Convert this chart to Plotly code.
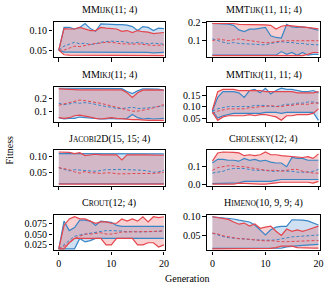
import plotly.graph_objects as go

gens = list(range(21))

# ---- MMijk(11;4)
mmijk_blue_max = [0.050,0.108,0.108,0.104,0.108,0.118,0.105,0.098,0.117,0.116,0.115,0.115,0.115,0.114,0.110,0.100,0.110,0.108,0.100,0.106,0.105]
mmijk_blue_mean = [0.050,0.060,0.065,0.070,0.066,0.068,0.064,0.066,0.070,0.072,0.073,0.072,0.072,0.070,0.068,0.070,0.068,0.066,0.068,0.066,0.065]
mmijk_blue_min = [0.050,0.045,0.045,0.045,0.044,0.045,0.045,0.044,0.044,0.045,0.045,0.044,0.044,0.045,0.044,0.044,0.044,0.044,0.043,0.044,0.044]
mmijk_red_max = [0.050,0.105,0.104,0.104,0.108,0.103,0.100,0.100,0.108,0.106,0.105,0.104,0.098,0.100,0.095,0.100,0.097,0.096,0.092,0.093,0.095]
mmijk_red_mean = [0.050,0.050,0.055,0.060,0.059,0.062,0.064,0.067,0.068,0.070,0.070,0.068,0.066,0.066,0.065,0.066,0.064,0.063,0.062,0.063,0.063]
mmijk_red_min = [0.050,0.038,0.037,0.037,0.037,0.037,0.037,0.037,0.036,0.036,0.036,0.036,0.036,0.036,0.036,0.036,0.036,0.036,0.036,0.036,0.036]

# ---- MMTijk(11,11;4)
mmtijk_blue_max = [0.195,0.195,0.195,0.192,0.185,0.160,0.150,0.164,0.164,0.168,0.173,0.127,0.118,0.115,0.190,0.176,0.173,0.176,0.173,0.165,0.158]
mmtijk_blue_mean = [0.110,0.100,0.092,0.085,0.090,0.085,0.083,0.080,0.082,0.078,0.077,0.085,0.090,0.095,0.090,0.090,0.085,0.085,0.080,0.080,0.077]
mmtijk_blue_min = [0.020,0.020,0.020,0.020,0.020,0.020,0.020,0.020,0.020,0.020,0.020,0.020,0.020,0.040,0.025,0.035,0.020,0.035,0.020,0.025,0.025]
mmtijk_red_max = [0.195,0.195,0.195,0.195,0.195,0.190,0.190,0.190,0.190,0.190,0.188,0.185,0.165,0.180,0.185,0.182,0.180,0.178,0.175,0.170,0.165]
mmtijk_red_mean = [0.100,0.110,0.105,0.100,0.105,0.110,0.105,0.100,0.097,0.092,0.088,0.090,0.095,0.098,0.100,0.100,0.100,0.102,0.100,0.100,0.100]
mmtijk_red_min = [0.018,0.018,0.018,0.018,0.018,0.018,0.018,0.018,0.018,0.018,0.018,0.018,0.018,0.018,0.018,0.018,0.018,0.018,0.025,0.035,0.035]

# ---- MMikj(11;4)
mmikj_blue_max = [0.275,0.275,0.275,0.275,0.275,0.275,0.274,0.274,0.274,0.274,0.274,0.274,0.272,0.250,0.235,0.255,0.270,0.270,0.270,0.268,0.260]
mmikj_blue_mean = [0.160,0.150,0.155,0.165,0.160,0.165,0.160,0.150,0.140,0.135,0.130,0.120,0.120,0.125,0.130,0.120,0.120,0.125,0.130,0.135,0.140]
mmikj_blue_min = [0.050,0.040,0.045,0.045,0.055,0.050,0.045,0.040,0.040,0.040,0.045,0.040,0.040,0.045,0.075,0.050,0.040,0.045,0.040,0.045,0.045]
mmikj_red_max = [0.270,0.270,0.268,0.265,0.262,0.262,0.260,0.260,0.265,0.265,0.262,0.262,0.262,0.240,0.205,0.240,0.260,0.262,0.262,0.260,0.260]
mmikj_red_mean = [0.145,0.155,0.165,0.175,0.185,0.180,0.175,0.170,0.160,0.150,0.140,0.130,0.120,0.105,0.100,0.100,0.105,0.115,0.125,0.140,0.150]
mmikj_red_min = [0.050,0.045,0.050,0.065,0.070,0.065,0.055,0.045,0.040,0.045,0.050,0.045,0.040,0.040,0.035,0.035,0.030,0.030,0.030,0.030,0.030]

# ---- MMTikj(11,11;4)
mmtikj_blue_max = [0.080,0.140,0.165,0.165,0.165,0.160,0.140,0.170,0.175,0.160,0.180,0.155,0.170,0.180,0.175,0.175,0.170,0.165,0.165,0.170,0.160]
mmtikj_blue_mean = [0.080,0.090,0.095,0.100,0.100,0.100,0.100,0.100,0.105,0.105,0.105,0.100,0.100,0.105,0.110,0.110,0.115,0.115,0.120,0.120,0.115]
mmtikj_blue_min = [0.080,0.050,0.060,0.065,0.070,0.070,0.070,0.070,0.070,0.070,0.075,0.075,0.075,0.070,0.075,0.075,0.075,0.075,0.075,0.075,0.040]
mmtikj_red_max = [0.085,0.165,0.175,0.175,0.175,0.170,0.170,0.170,0.170,0.170,0.165,0.165,0.165,0.165,0.165,0.165,0.160,0.160,0.160,0.160,0.165]
mmtikj_red_mean = [0.070,0.080,0.085,0.090,0.090,0.090,0.090,0.095,0.095,0.100,0.100,0.105,0.100,0.100,0.105,0.105,0.110,0.110,0.110,0.115,0.115]
mmtikj_red_min = [0.075,0.040,0.055,0.060,0.060,0.060,0.060,0.065,0.060,0.065,0.065,0.060,0.055,0.040,0.060,0.060,0.065,0.065,0.065,0.070,0.090]

# ---- Jacobi2D(15,15;4)
jacobi_blue_max = [0.110,0.110,0.110,0.110,0.110,0.110,0.109,0.109,0.109,0.109,0.109,0.109,0.109,0.109,0.109,0.109,0.109,0.109,0.109,0.109,0.109]
jacobi_blue_mean = [0.066,0.062,0.056,0.060,0.058,0.056,0.056,0.055,0.058,0.060,0.060,0.061,0.061,0.060,0.060,0.059,0.058,0.056,0.052,0.053,0.058]
jacobi_blue_min = [0.016,0.016,0.016,0.016,0.016,0.016,0.016,0.016,0.016,0.016,0.016,0.016,0.016,0.016,0.016,0.016,0.016,0.016,0.016,0.016,0.016]
jacobi_red_max = [0.115,0.115,0.114,0.110,0.113,0.104,0.107,0.108,0.106,0.107,0.106,0.106,0.090,0.106,0.107,0.106,0.106,0.106,0.106,0.105,0.105]
jacobi_red_mean = [0.066,0.064,0.060,0.053,0.049,0.054,0.050,0.050,0.048,0.050,0.050,0.047,0.046,0.047,0.048,0.048,0.046,0.047,0.048,0.050,0.052]
jacobi_red_min = [0.015,0.015,0.015,0.015,0.015,0.015,0.015,0.015,0.015,0.015,0.015,0.015,0.015,0.015,0.015,0.015,0.015,0.015,0.015,0.015,0.015]

# ---- Cholesky(12;4)
chol_blue_max = [0.120,0.140,0.140,0.135,0.135,0.130,0.145,0.135,0.140,0.130,0.135,0.125,0.120,0.120,0.100,0.150,0.145,0.145,0.135,0.135,0.135]
chol_blue_mean = [0.065,0.070,0.075,0.085,0.090,0.090,0.090,0.085,0.080,0.080,0.080,0.075,0.075,0.080,0.075,0.075,0.070,0.070,0.070,0.075,0.085]
chol_blue_min = [0.008,0.008,0.008,0.010,0.010,0.012,0.020,0.022,0.020,0.020,0.020,0.020,0.025,0.030,0.030,0.030,0.030,0.030,0.030,0.028,0.030]
chol_red_max = [0.130,0.175,0.180,0.180,0.178,0.175,0.160,0.165,0.160,0.165,0.180,0.165,0.165,0.160,0.158,0.155,0.155,0.150,0.155,0.145,0.170]
chol_red_mean = [0.080,0.095,0.100,0.105,0.105,0.100,0.100,0.095,0.090,0.085,0.080,0.080,0.080,0.075,0.080,0.085,0.085,0.075,0.070,0.065,0.065]
chol_red_min = [0.005,0.005,0.008,0.005,0.005,0.010,0.008,0.005,0.005,0.005,0.005,0.010,0.012,0.015,0.015,0.015,0.015,0.015,0.015,0.010,0.020]

# ---- Crout(12;4)
crout_blue_max = [0.016,0.080,0.058,0.065,0.082,0.082,0.080,0.070,0.080,0.078,0.077,0.070,0.068,0.068,0.068,0.068,0.068,0.068,0.068,0.068,0.068]
crout_blue_mean = [0.016,0.025,0.035,0.045,0.048,0.050,0.052,0.055,0.057,0.058,0.058,0.058,0.057,0.055,0.056,0.055,0.055,0.055,0.055,0.056,0.057]
crout_blue_min = [0.016,0.016,0.016,0.016,0.040,0.032,0.035,0.040,0.040,0.040,0.040,0.040,0.040,0.040,0.040,0.040,0.040,0.040,0.040,0.040,0.040]
crout_red_max = [0.016,0.070,0.085,0.090,0.085,0.085,0.080,0.075,0.078,0.078,0.075,0.075,0.085,0.080,0.085,0.080,0.090,0.078,0.090,0.088,0.090]
crout_red_mean = [0.016,0.022,0.030,0.040,0.045,0.050,0.050,0.052,0.053,0.050,0.050,0.052,0.055,0.055,0.055,0.055,0.055,0.055,0.056,0.057,0.058]
crout_red_min = [0.016,0.016,0.030,0.040,0.040,0.040,0.040,0.040,0.040,0.025,0.025,0.040,0.040,0.040,0.040,0.025,0.025,0.030,0.030,0.020,0.025]

# ---- Himeno(10,9,9;4)
himeno_blue_max = [0.099,0.098,0.097,0.095,0.093,0.090,0.088,0.085,0.077,0.064,0.050,0.064,0.071,0.073,0.073,0.091,0.091,0.090,0.088,0.083,0.077]
himeno_blue_mean = [0.055,0.050,0.046,0.043,0.042,0.042,0.040,0.038,0.037,0.036,0.035,0.036,0.037,0.040,0.042,0.045,0.046,0.047,0.048,0.049,0.050]
himeno_blue_min = [0.014,0.014,0.014,0.014,0.014,0.014,0.014,0.014,0.014,0.014,0.014,0.014,0.014,0.015,0.018,0.020,0.021,0.022,0.023,0.024,0.025]
himeno_red_max = [0.099,0.097,0.095,0.092,0.085,0.079,0.082,0.074,0.080,0.068,0.071,0.074,0.060,0.049,0.066,0.060,0.064,0.060,0.064,0.068,0.074]
himeno_red_mean = [0.055,0.053,0.048,0.045,0.042,0.040,0.040,0.038,0.037,0.035,0.034,0.035,0.033,0.032,0.032,0.033,0.034,0.034,0.035,0.035,0.035]
himeno_red_min = [0.013,0.013,0.013,0.013,0.013,0.013,0.013,0.013,0.013,0.013,0.013,0.014,0.016,0.020,0.020,0.020,0.016,0.015,0.015,0.015,0.015]

SC = '<span style="font-size:7.5px">'
titles = [
    "MM" + SC + "IJK</span>(11; 4)",
    "MMT" + SC + "IJK</span>(11, 11; 4)",
    "MM" + SC + "IKJ</span>(11; 4)",
    "MMT" + SC + "IKJ</span>(11, 11; 4)",
    "J" + SC + "ACOBI</span>2D(15, 15; 4)",
    "C" + SC + "HOLESKY</span>(12; 4)",
    "C" + SC + "ROUT</span>(12; 4)",
    "H" + SC + "IMENO</span>(10, 9, 9; 4)",
]
panels = [
    (mmijk_blue_max, mmijk_blue_mean, mmijk_blue_min, mmijk_red_max, mmijk_red_mean, mmijk_red_min),
    (mmtijk_blue_max, mmtijk_blue_mean, mmtijk_blue_min, mmtijk_red_max, mmtijk_red_mean, mmtijk_red_min),
    (mmikj_blue_max, mmikj_blue_mean, mmikj_blue_min, mmikj_red_max, mmikj_red_mean, mmikj_red_min),
    (mmtikj_blue_max, mmtikj_blue_mean, mmtikj_blue_min, mmtikj_red_max, mmtikj_red_mean, mmtikj_red_min),
    (jacobi_blue_max, jacobi_blue_mean, jacobi_blue_min, jacobi_red_max, jacobi_red_mean, jacobi_red_min),
    (chol_blue_max, chol_blue_mean, chol_blue_min, chol_red_max, chol_red_mean, chol_red_min),
    (crout_blue_max, crout_blue_mean, crout_blue_min, crout_red_max, crout_red_mean, crout_red_min),
    (himeno_blue_max, himeno_blue_mean, himeno_blue_min, himeno_red_max, himeno_red_mean, himeno_red_min),
]
ytick_step = [0.05, 0.1, 0.1, 0.05, 0.05, 0.1, 0.025, 0.05]
ytick_fmt = [".2f", ".1f", ".1f", ".2f", ".2f", ".1f", ".3f", ".2f"]

BLUE = "#3a85c6"
RED = "#e5454c"
BLUE_FILL = "rgba(58,133,198,0.25)"
RED_FILL = "rgba(229,69,76,0.25)"
FONT = "Liberation Serif"

W, H = 329, 296
col_x = [(54, 167), (209, 323)]
row_top = [17.5, 84.5, 150.5, 217.5]
box_h = 36.5

fig = go.Figure()
layout = dict(
    width=W, height=H, autosize=False,
    margin=dict(l=0, r=0, t=0, b=0),
    paper_bgcolor="white", plot_bgcolor="white",
    showlegend=False,
    font=dict(family=FONT, size=10, color="black"),
)
annotations = []

for i, (bmax, bmean, bmin, rmax, rmean, rmin) in enumerate(panels):
    r, c = divmod(i, 2)
    n = i + 1
    xa = "x" if n == 1 else f"x{n}"
    ya = "y" if n == 1 else f"y{n}"
    for mx, mn, fc in [(bmax, bmin, BLUE_FILL), (rmax, rmin, RED_FILL)]:
        fig.add_trace(go.Scatter(
            x=gens + gens[::-1], y=mx + mn[::-1], fill="toself", fillcolor=fc,
            line=dict(width=0), mode="lines", hoverinfo="skip", xaxis=xa, yaxis=ya))
    for ys, col, dash, w in [(bmax, BLUE, "solid", 1.2), (bmin, BLUE, "solid", 1.2),
                             (rmax, RED, "solid", 1.2), (rmin, RED, "solid", 1.2),
                             (bmean, BLUE, "dash", 1.0), (rmean, RED, "dash", 1.0)]:
        fig.add_trace(go.Scatter(x=gens, y=ys, mode="lines",
                                 line=dict(color=col, width=w, dash="3px,2px" if dash == "dash" else "solid"),
                                 xaxis=xa, yaxis=ya))
    allv = bmax + bmin + rmax + rmin + bmean + rmean
    lo, hi = min(allv), max(allv)
    pad = 0.05 * (hi - lo)
    x0, x1 = col_x[c]
    top = row_top[r]
    bot = top + box_h
    xkey = "xaxis" if n == 1 else f"xaxis{n}"
    ykey = "yaxis" if n == 1 else f"yaxis{n}"
    layout[xkey] = dict(
        domain=[x0 / W, x1 / W], anchor=ya, range=[-1, 20.3],
        tickvals=[0, 10, 20], showticklabels=(r == 3),
        ticks="outside", ticklen=3.5, tickwidth=1, tickcolor="black",
        showline=True, linecolor="black", linewidth=1.2, mirror=True,
        showgrid=False, zeroline=False, tickfont=dict(size=10, family=FONT),
        ticklabeloverflow="allow",
    )
    layout[ykey] = dict(
        domain=[1 - bot / H, 1 - top / H], anchor=xa, range=[lo - pad, hi + pad],
        dtick=ytick_step[i], tick0=0, tickformat=ytick_fmt[i],
        ticks="outside", ticklen=3.5, tickwidth=1, tickcolor="black",
        showline=True, linecolor="black", linewidth=1.2, mirror=True,
        showgrid=False, zeroline=False, tickfont=dict(size=10, family=FONT),
    )
    annotations.append(dict(
        text=titles[i], x=(x0 + x1) / 2 / W, y=1 - (top - 4) / H,
        xref="paper", yref="paper", xanchor="center", yanchor="bottom",
        showarrow=False, font=dict(size=10, family=FONT)))

annotations.append(dict(text="Generation", x=(54 + 323) / 2 / W, y=1 - 291 / H,
                        xref="paper", yref="paper", xanchor="center", yanchor="bottom",
                        showarrow=False, font=dict(size=10, family=FONT)))
annotations.append(dict(text="Fitness", x=2 / W, y=1 - 150 / H, textangle=-90,
                        xref="paper", yref="paper", xanchor="left", yanchor="middle",
                        showarrow=False, font=dict(size=10, family=FONT)))
layout["annotations"] = annotations
fig.update_layout(**layout)
fig.write_html("out.html", config={"displayModeBar": False},
               post_script="document.body.style.margin='0';document.body.style.padding='0';")
